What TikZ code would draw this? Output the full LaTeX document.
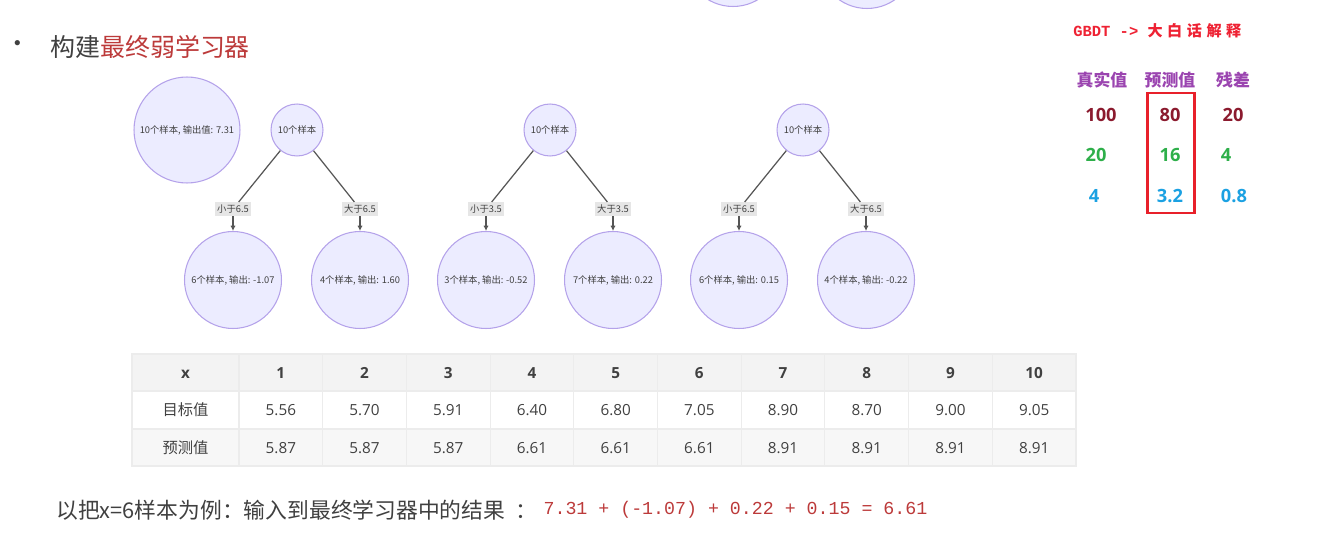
\documentclass[tikz,border=0pt]{standalone}
\usepackage{fontspec}
\setmainfont{Noto Sans CJK SC}
\newfontfamily\numfont{Open Sans}
\newfontfamily\monofont{Liberation Mono}
\newfontfamily\spacedcjk[LetterSpace=30]{Noto Sans CJK SC}
\usetikzlibrary{positioning,arrows.meta}

\definecolor{nodefill}{HTML}{ECECFF}
\definecolor{nodeline}{HTML}{B4A2EA}
\definecolor{linkgray}{HTML}{555555}
\definecolor{labelbg}{HTML}{E6E6E6}
\definecolor{textgray}{HTML}{404040}
\definecolor{titlered}{HTML}{BC3A3A}
\definecolor{gbdtred}{HTML}{EE2233}
\definecolor{headpurple}{HTML}{9B45B0}
\definecolor{rowone}{HTML}{8B1A2E}
\definecolor{rowtwo}{HTML}{2EAF4A}
\definecolor{rowthree}{HTML}{1BA1E2}
\definecolor{boxred}{HTML}{E8202A}
\definecolor{gridline}{HTML}{ECECEC}
\definecolor{headfill}{HTML}{F3F3F3}
\definecolor{lowfill}{HTML}{F7F7F7}

\begin{document}
\begin{tikzpicture}[x=0.02cm,y=-0.02cm,
    every node/.style={inner sep=0pt},
    tnode/.style={circle,draw=nodeline,fill=nodefill,line width=0.6pt,text=textgray,
      font=\fontsize{5.3}{6}\selectfont},
    bignode/.style={tnode,minimum size=2.12cm},
    rootnode/.style={tnode,minimum size=1.04cm},
    leafnode/.style={tnode,minimum size=1.94cm},
    cond/.style={fill=labelbg,inner sep=1.4pt,text=textgray,font=\fontsize{5.3}{6}\selectfont},
    link/.style={draw=linkgray,line width=0.7pt},
    head/.style={text=headpurple,font=\fontsize{9.6}{11}\selectfont\bfseries},
    val/.style={font=\fontsize{10.4}{12}\numfont\bfseries},
    cell/.style={text=textgray,text height=6.3pt,text depth=0pt,font=\fontsize{8.7}{10}\numfont}]
  \useasboundingbox (0,0) rectangle (1342,554);

  % circles left over from the previous slide
  \node[leafnode] (prevl) at (733,-42) {};
  \node[leafnode] (prevr) at (867,-40) {};

  % title
  \node (dot) at (18,47) {\fontsize{14}{16}\selectfont\color{textgray}•};
  \node[anchor=west] (title) at (50,47) {\fontsize{14.2}{17}\selectfont
    \color{textgray}构建\color{titlered}最终弱学习器};

  % initial value
  \node[bignode] (init) at (187,130) {10个样本, 输出值: 7.31};

  % the three trees
  \foreach \x/\s/\lv/\rv/\ln/\rn [count=\i] in
      {297/6.5/-1.07/1.60/6/4, 550/3.5/-0.52/0.22/3/7, 803/6.5/0.15/-0.22/6/4} {
    \node[rootnode] (root\i) at (\x,130) {10个样本};
    \node[cond] (lo\i) at (\x-64,209) {小于\s};
    \node[cond] (hi\i) at (\x+63,209) {大于\s};
    \node[leafnode] (left\i) at (\x-64,280) {\ln 个样本, 输出: \lv};
    \node[leafnode] (right\i) at (\x+63,280) {\rn 个样本, 输出: \rv};
    \draw[link] (root\i) -- (lo\i);
    \draw[link] (root\i) -- (hi\i);
    \draw[link,-{Latex[length=3pt,width=3pt]}] (lo\i) -- (left\i);
    \draw[link,-{Latex[length=3pt,width=3pt]}] (hi\i) -- (right\i);
  }

  % GBDT panel
  \node[anchor=west,text=gbdtred] (gbdt) at (1073,31)
    {\fontsize{8.8}{10}\monofont\bfseries GBDT -> \fontsize{8.6}{10}\spacedcjk\bfseries 大白话解释};
  \node[head] (truth) at (1102,80) {真实值};
  \node[head] (pred) at (1170,80) {预测值};
  \node[head] (resid) at (1233,80) {残差};
  \foreach \y/\a/\ax/\b/\c/\cx/\col in
      {115/100/1101/80/20/1233/rowone, 155/20/1096/16/4/1226/rowtwo,
       196/4/1094/3.2/0.8/1234/rowthree} {
    \node[val,text=\col] at (\ax,\y) {\a};
    \node[val,text=\col] at (1170,\y) {\b};
    \node[val,text=\col] at (\cx,\y) {\c};
  }
  \draw[boxred,line width=1.7pt] (1147,93) rectangle (1194,213);

  % table
  \fill[headfill] (132,354) rectangle (1076,391);
  \fill[lowfill] (132,429) rectangle (1076,466);
  \draw[gridline,line width=0.6pt] (132,354) rectangle (1076,466);
  \draw[gridline,line width=0.6pt] (132,391) -- (1076,391) (132,429) -- (1076,429);
  \foreach \k in {0,...,9}
    \draw[gridline,line width=0.6pt] ({239+\k*83.7},354) -- ({239+\k*83.7},466);
  \node[cell] (xhead) at (185.5,372.5) {\bfseries x};
  \node[cell] (target) at (185.5,410) {\rmfamily 目标值};
  \node[cell] (guess) at (185.5,447.5) {\rmfamily 预测值};
  \foreach \c in {1,...,10}
    \node[cell] at ({239+(\c-0.5)*83.7},372.5) {\bfseries\c};
  \foreach \v [count=\c] in {5.56,5.70,5.91,6.40,6.80,7.05,8.90,8.70,9.00,9.05}
    \node[cell] at ({239+(\c-0.5)*83.7},410) {\v};
  \foreach \v [count=\c] in {5.87,5.87,5.87,6.61,6.61,6.61,8.91,8.91,8.91,8.91}
    \node[cell] at ({239+(\c-0.5)*83.7},447.5) {\v};

  % worked example
  \node[anchor=west,text=textgray] (example) at (56,510)
    {\fontsize{12.4}{14}\selectfont 以把x=6样本为例：输入到最终学习器中的结果\ \ ：};
  \node[right=0.12cm of example,text=titlered] (sum)
    {\fontsize{10.4}{12}\monofont 7.31 + (-1.07) + 0.22 + 0.15 = 6.61};
\end{tikzpicture}
\end{document}
